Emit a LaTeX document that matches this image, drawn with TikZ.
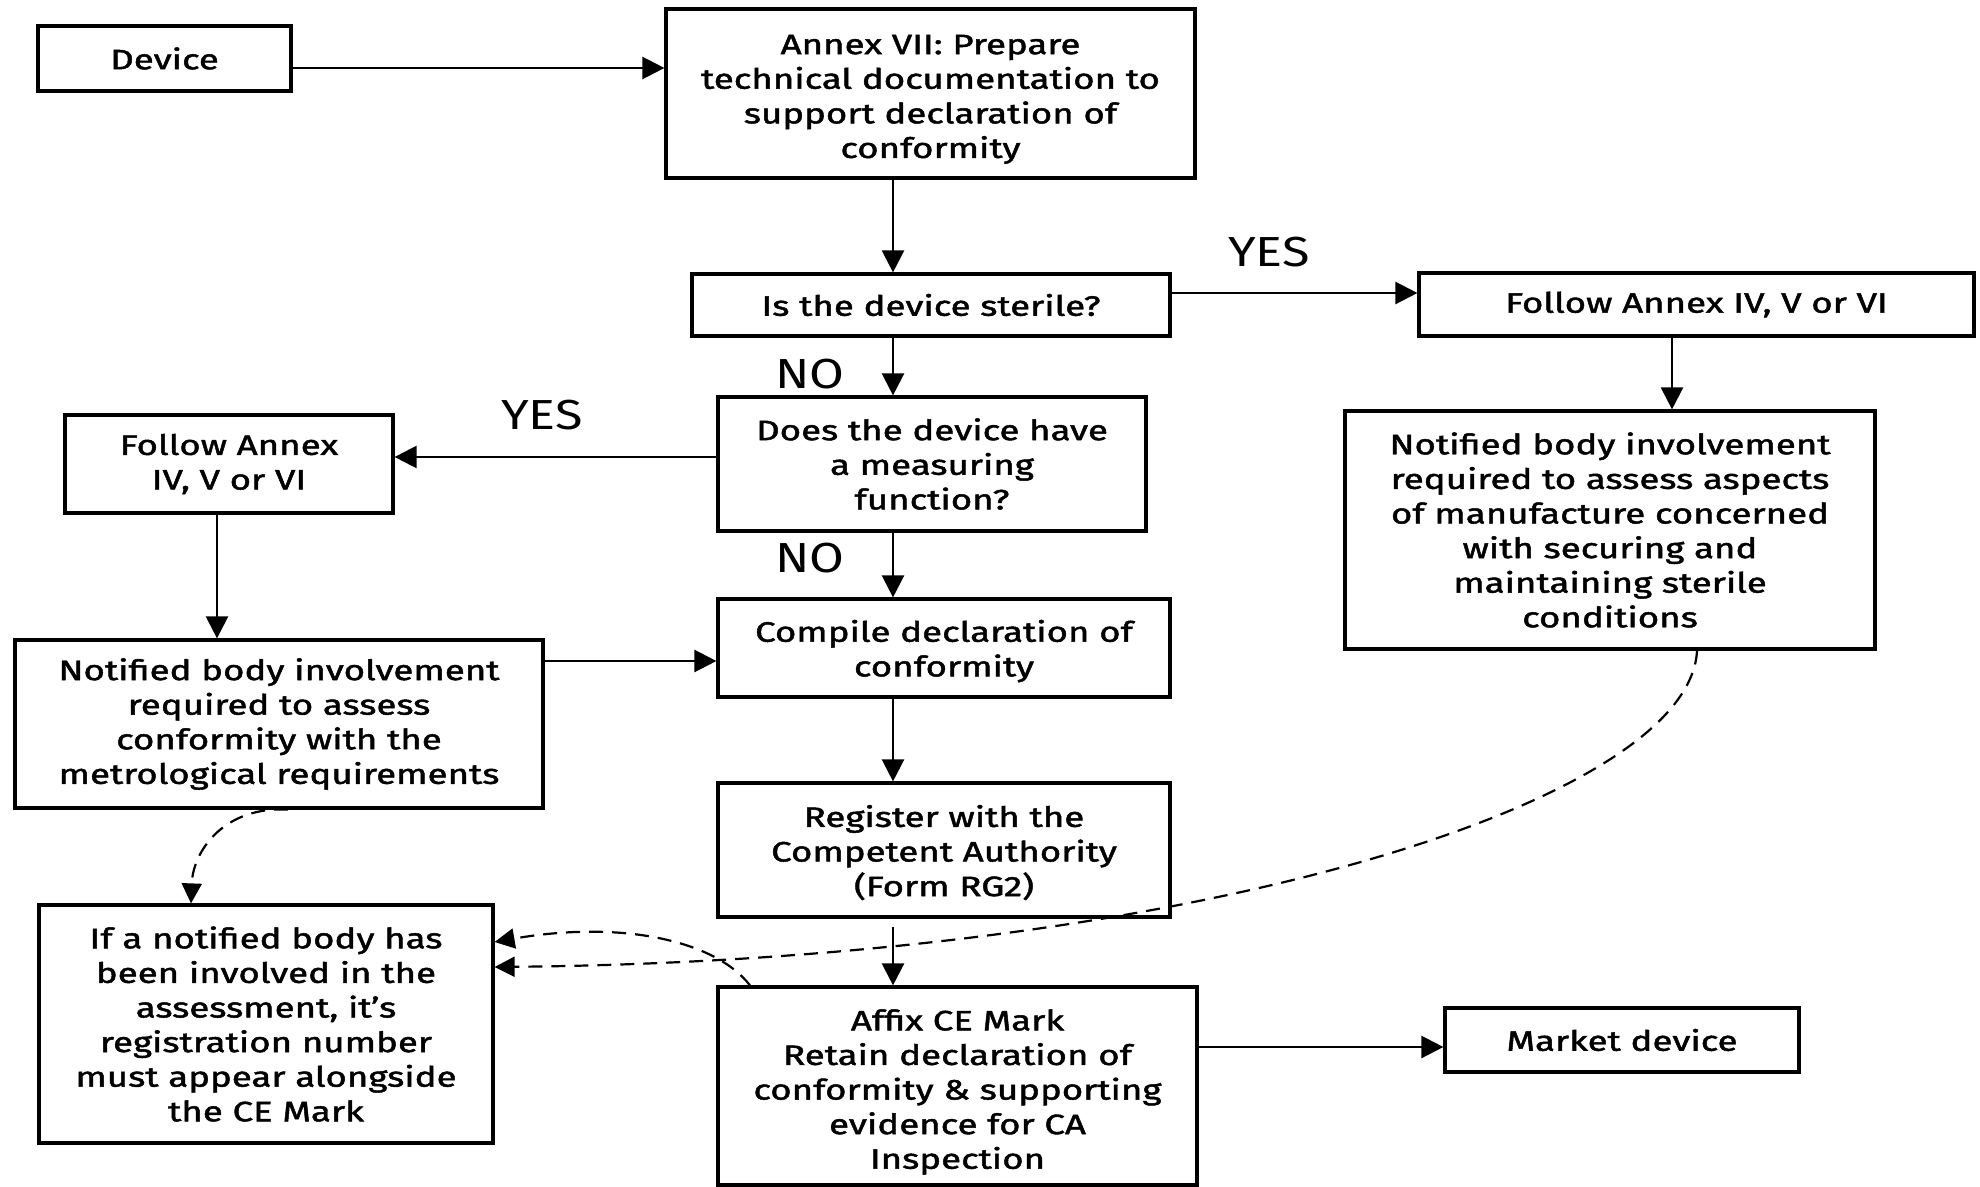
\documentclass[tikz,border=0pt]{standalone}
\usepackage{fontspec}
\setmainfont{Fira Sans}[FakeStretch=1.2]
\newfontfamily\boxfont{Fira Sans}[FakeStretch=1.31,FakeBold=1.7]
\usetikzlibrary{arrows.meta,calc}

% invisible strut that lowers the text block in a box
\newcommand\dropby[1]{\rule{0pt}{#1}}

\tikzset{
  box/.style={draw, line width=1.6pt, align=center, inner sep=0pt,
    font=\boxfont\fontsize{14}{17.3}\selectfont},
  bw/.style={minimum width=#1*0.5pt},
  bh/.style={minimum height=#1*0.5pt},
  arr/.style={line width=1.2pt, -{Triangle[length=11pt,width=11pt]}},
  dsh/.style={line width=1.1pt, dash pattern=on 7pt off 4.5pt,
    -{Triangle[length=10pt,width=10pt]}},
  lbl/.style={inner sep=0pt, font=\fontsize{21}{25}\selectfont},
}

\begin{document}
\begin{tikzpicture}[x=0.5pt,y=-0.5pt]
\useasboundingbox (0,0) rectangle (1980,1187);

% boxes
\node[box,bw=253,bh=65]  (device)   at (164.5,58.5) {Device};
\node[box,bw=529,bh=169] (annex)    at (930.5,93.5) {\dropby{15.5pt}Annex VII: Prepare\\technical documentation to\\support declaration of\\conformity};
\node[box,bw=478,bh=62]  (sterile)  at (931,305)    {Is the device sterile?};
\node[box,bw=555,bh=63]  (fr)       at (1696.5,304.5) {Follow Annex IV, V or VI};
\node[box,bw=428,bh=134] (measure)  at (932,464)    {Does the device have\\a measuring\\function?};
\node[box,bw=328,bh=98]  (fl)       at (229,464)    {Follow Annex\\IV, V or VI};
\node[box,bw=530,bh=238] (nbright)  at (1610,530)   {Notified body involvement\\required to assess aspects\\of manufacture concerned\\with securing and\\maintaining sterile\\conditions};
\node[box,bw=528,bh=168] (nbleft)   at (279,724)    {Notified body involvement\\required to assess\\conformity with the\\metrological requirements};
\node[box,bw=452,bh=98]  (compile)  at (944,648)    {\dropby{14pt}Compile declaration of\\conformity};
\node[box,bw=452,bh=134] (register) at (944,850)    {\dropby{13.5pt}Register with the\\Competent Authority\\(Form RG2)};
\node[box,bw=454,bh=238] (note)     at (266,1024)   {If a notified body has\\been involved in the\\assessment, it’s\\registration number\\must appear alongside\\the CE Mark};
\node[box,bw=479,bh=198] (affix)    at (957.5,1086) {\dropby{16.5pt}Affix CE Mark\\Retain declaration of\\conformity \& supporting\\evidence for CA\\Inspection};
\node[box,bw=354,bh=64]  (market)   at (1622,1040)  {Market device};

% decision labels
\node[lbl] (yes1) at (1269,252) {YES};
\node[lbl] (no1)  at (810,374)  {NO};
\node[lbl] (yes2) at (542,415)  {YES};
\node[lbl] (no2)  at (810,558)  {NO};

% main flow
\draw[arr] (device.east |- 0,68) -- (annex.west |- 0,68);
\draw[arr] (annex.south -| 893,0) -- (sterile.north -| 893,0);
\draw[arr] (sterile.east |- 0,293) -- (fr.west |- 0,293);
\draw[arr] (sterile.south -| 893,0) -- (measure.north -| 893,0);
\draw[arr] (fr.south -| 1672,0) -- (nbright.north -| 1672,0);
\draw[arr] (measure.west |- 0,457) -- (fl.east |- 0,457);
\draw[arr] (measure.south -| 893,0) -- (compile.north -| 893,0);
\draw[arr] (fl.south -| 217,0) -- (nbleft.north -| 217,0);
\draw[arr] (nbleft.east |- 0,661) -- (compile.west |- 0,661);
\draw[arr] (compile.south -| 893,0) -- (register.north -| 893,0);
\draw[arr] ($(register.south -| 893,0)+(0,8)$) -- (affix.north -| 893,0);
\draw[arr] (affix.east |- 0,1047) -- (market.west |- 0,1047);

% notified body references
\draw[dsh] (nbright.south -| 1697,0) .. controls (1690,800) and (1200,960) .. (note.east |- 0,967);
\draw[dsh] (nbleft.south -| 288,0) .. controls (225,806) and (193,850) .. (note.north -| 191,0);
\draw[dsh] (affix.north -| 750,0) .. controls (715,940) and (620,920) .. (note.east |- 0,942);
\end{tikzpicture}
\end{document}
